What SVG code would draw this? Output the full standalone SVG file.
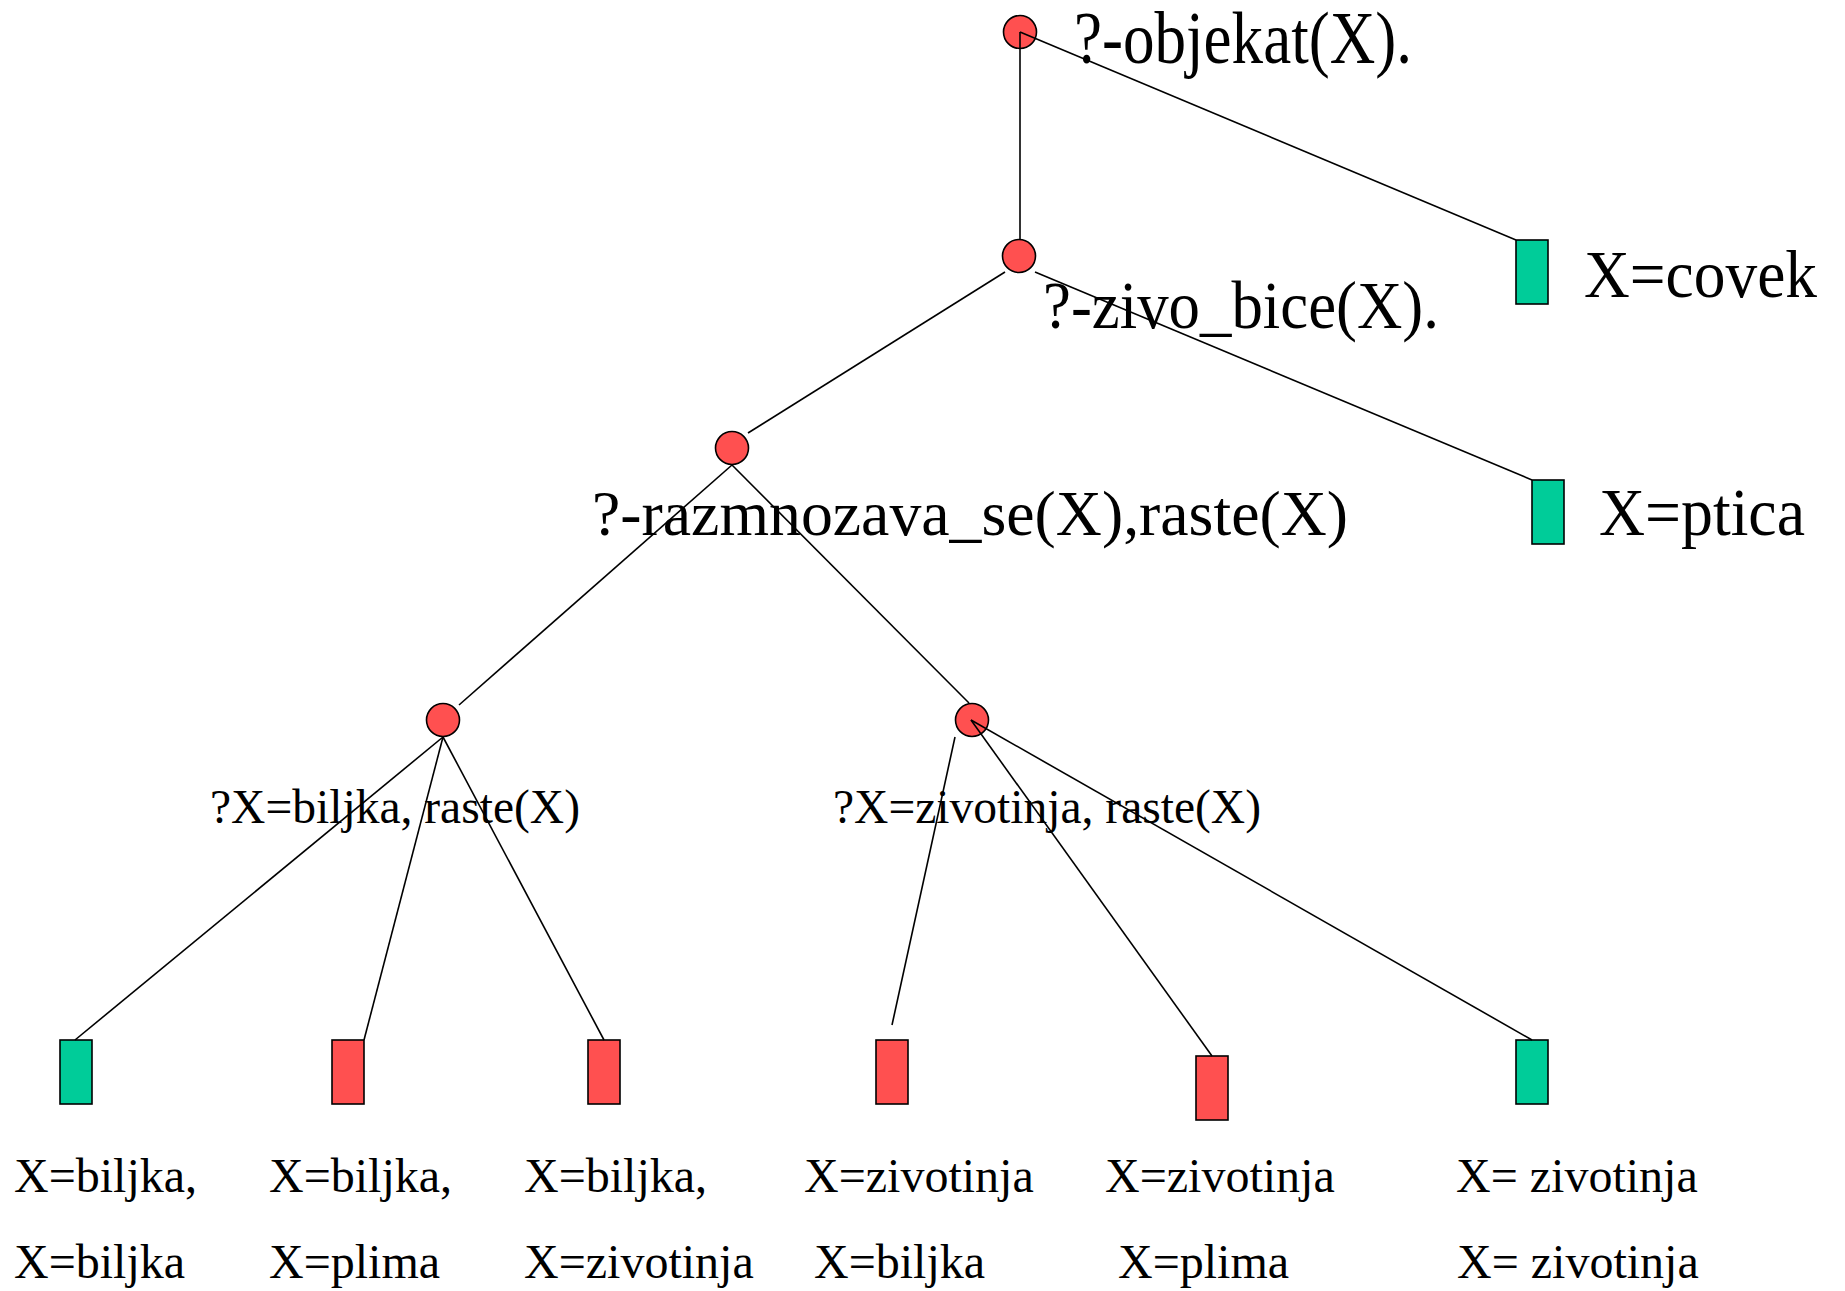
<svg xmlns="http://www.w3.org/2000/svg" width="1845" height="1291" viewBox="0 0 1845 1291">
  <style>
    .goal { fill: #FF5050; stroke: #000; stroke-width: 1.6; }
    .ok { fill: #00CC99; stroke: #000; stroke-width: 1.6; }
    .fail { fill: #FF5050; stroke: #000; stroke-width: 1.6; }
    .edge { stroke: #000; stroke-width: 1.6; fill: none; }
    text { font-family: "Liberation Serif", "Times New Roman", serif; fill: #000; }
    .big { font-size: 67px; }
    .mid { font-size: 48px; }
  </style>
  <rect width="1845" height="1291" fill="#fff"/>

  <!-- goal nodes -->
  <g id="n-objekat">
    <circle class="goal" cx="1020" cy="32" r="16.5"/>
    <text x="1074" y="63" style="font-size:73px" textLength="338" lengthAdjust="spacingAndGlyphs">?-objekat(X).</text>
  </g>
  <g id="n-zivo-bice">
    <circle class="goal" cx="1019" cy="256" r="16.5"/>
    <text class="big" x="1043" y="328" textLength="396" lengthAdjust="spacingAndGlyphs">?-zivo_bice(X).</text>
  </g>
  <g id="n-covek">
    <rect class="ok" x="1516" y="240" width="32" height="64"/>
    <text class="big" x="1584" y="297" textLength="233" lengthAdjust="spacingAndGlyphs">X=covek</text>
  </g>
  <g id="n-ptica">
    <rect class="ok" x="1532" y="480" width="32" height="64"/>
    <text class="big" x="1599" y="535" textLength="206" lengthAdjust="spacingAndGlyphs">X=ptica</text>
  </g>
  <g id="n-razmnozava">
    <circle class="goal" cx="732" cy="448" r="16.5"/>
    <text x="592" y="535" style="font-size:64px" textLength="756" lengthAdjust="spacingAndGlyphs">?-razmnozava_se(X),raste(X)</text>
  </g>
  <g id="n-biljka">
    <circle class="goal" cx="443" cy="720" r="16.5"/>
    <text class="mid" x="210" y="823" textLength="370" lengthAdjust="spacingAndGlyphs">?X=biljka, raste(X)</text>
  </g>
  <g id="n-zivotinja">
    <circle class="goal" cx="972" cy="720" r="16.5"/>
    <text class="mid" x="833" y="823" textLength="428" lengthAdjust="spacingAndGlyphs">?X=zivotinja, raste(X)</text>
  </g>

  <!-- leaves -->
  <g id="leaf-1">
    <rect class="ok" x="60" y="1040" width="32" height="64"/>
    <text class="mid" x="14" y="1192">X=biljka,</text>
    <text class="mid" x="14" y="1278">X=biljka</text>
  </g>
  <g id="leaf-2">
    <rect class="fail" x="332" y="1040" width="32" height="64"/>
    <text class="mid" x="269" y="1192">X=biljka,</text>
    <text class="mid" x="269" y="1278">X=plima</text>
  </g>
  <g id="leaf-3">
    <rect class="fail" x="588" y="1040" width="32" height="64"/>
    <text class="mid" x="524" y="1192">X=biljka,</text>
    <text class="mid" x="524" y="1278">X=zivotinja</text>
  </g>
  <g id="leaf-4">
    <rect class="fail" x="876" y="1040" width="32" height="64"/>
    <text class="mid" x="804" y="1192">X=zivotinja</text>
    <text class="mid" x="814" y="1278">X=biljka</text>
  </g>
  <g id="leaf-5">
    <rect class="fail" x="1196" y="1056" width="32" height="64"/>
    <text class="mid" x="1105" y="1192">X=zivotinja</text>
    <text class="mid" x="1118" y="1278">X=plima</text>
  </g>
  <g id="leaf-6">
    <rect class="ok" x="1516" y="1040" width="32" height="64"/>
    <text class="mid" x="1456" y="1192">X= zivotinja</text>
    <text class="mid" x="1457" y="1278">X= zivotinja</text>
  </g>

  <!-- connectors -->
  <g id="connectors" class="edge">
    <line x1="1020" y1="32" x2="1020" y2="240"/>
    <line x1="1020" y1="32" x2="1516" y2="240"/>
    <line x1="1005" y1="272" x2="748" y2="433"/>
    <line x1="1035" y1="272" x2="1532" y2="480"/>
    <line x1="732" y1="465" x2="459" y2="705"/>
    <line x1="732" y1="465" x2="969" y2="703"/>
    <line x1="443" y1="737" x2="75" y2="1040"/>
    <line x1="443" y1="737" x2="364" y2="1040"/>
    <line x1="443" y1="737" x2="604" y2="1040"/>
    <line x1="955" y1="737" x2="892" y2="1025"/>
    <line x1="971" y1="720" x2="1212" y2="1056"/>
    <line x1="971" y1="720" x2="1532" y2="1040"/>
  </g>
</svg>
